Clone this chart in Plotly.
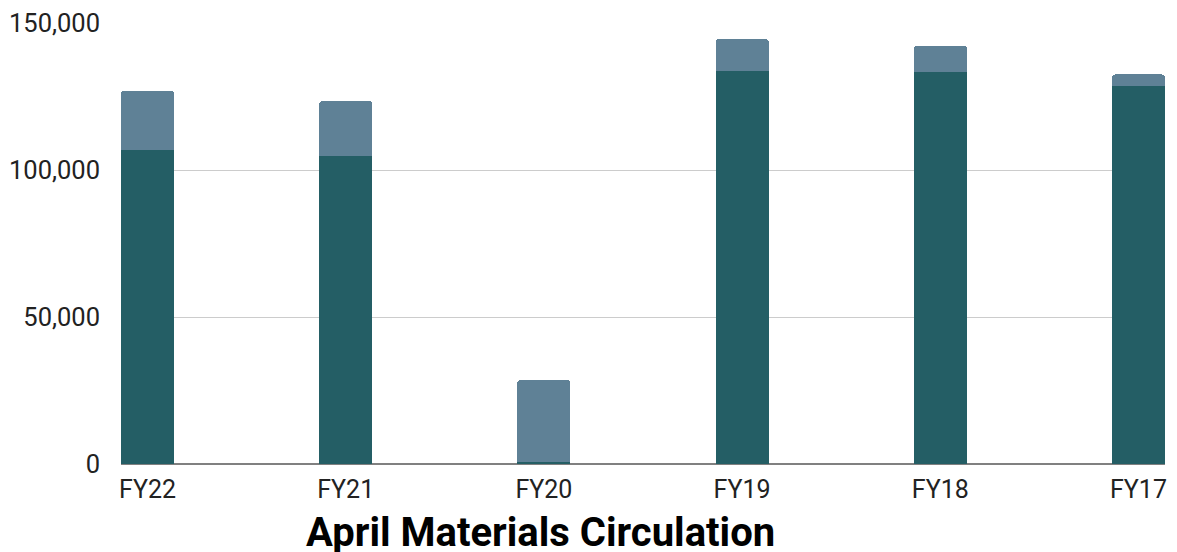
import plotly.graph_objects as go

categories = ["FY22", "FY21", "FY20", "FY19", "FY18", "FY17"]
base_values = [106700, 104700, 600, 133600, 133200, 128500]
top_values = [20200, 18700, 27900, 10900, 9000, 4000]
y_ticks = [0, 50000, 100000, 150000]
y_tick_text = ["0", "50,000", "100,000", "150,000"]
title_text = "April Materials Circulation"

dark = "#245e65"
light = "#5f8196"

fig = go.Figure()
fig.add_trace(go.Bar(x=categories, y=base_values, marker=dict(color=dark, line=dict(width=0)),
                     name="Base", hoverinfo="skip"))
fig.add_trace(go.Bar(x=categories, y=top_values, marker=dict(color=light, line=dict(width=0)),
                     name="Top", hoverinfo="skip"))

n = len(categories)
w = 53 / 198
fig.update_layout(
    barmode="stack",
    bargap=1 - w,
    barcornerradius=3,
    width=1177, height=552,
    margin=dict(l=121, r=12, t=23, b=88),
    paper_bgcolor="white", plot_bgcolor="white",
    showlegend=False,
    font=dict(family="Roboto", size=25, color="#222222"),
    xaxis=dict(type="category", range=[-w / 2, n - 1 + w / 2], showgrid=False,
               showline=False, ticks="", tickfont=dict(size=25, color="#222222"),
               ticklabelstandoff=8, automargin=False, fixedrange=True),
    yaxis=dict(range=[0, 150000], tickvals=y_ticks, ticktext=y_tick_text,
               showgrid=True, gridcolor="#cccccc", gridwidth=1,
               zeroline=True, zerolinecolor="#808080", zerolinewidth=1.5,
               showline=False, ticks="", tickfont=dict(size=25.5, color="#222222"),
               ticklabelstandoff=20, automargin=False, fixedrange=True),
    annotations=[dict(text="<b>" + title_text + "</b>", xref="paper", yref="paper",
                      x=(540 - 121) / 1044, y=(464 - 533) / 441.3,
                      xanchor="center", yanchor="middle", showarrow=False,
                      font=dict(family="Roboto", size=40, color="#000000"))],
)

fig.write_html("out.html", config={"displayModeBar": False},
               post_script="document.body.style.margin='0';document.body.style.overflow='hidden';")
